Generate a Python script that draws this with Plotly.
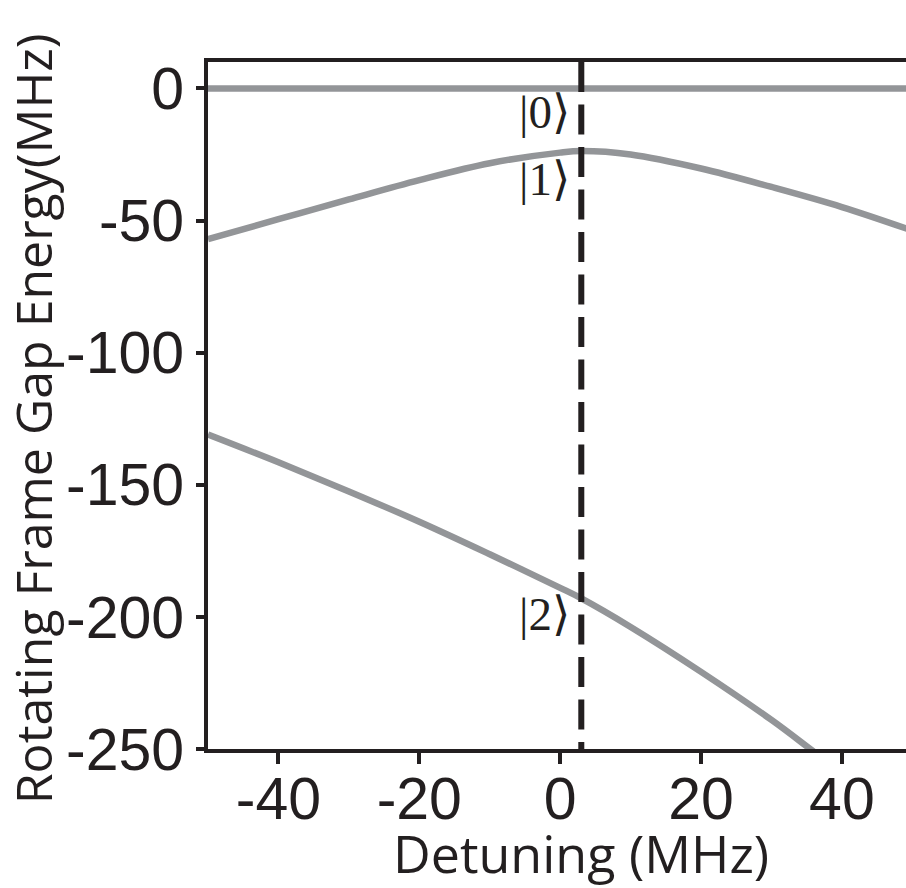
import plotly.graph_objects as go

# Data
detuning_0 = [-50, 50]
energy_0 = [0, 0]

detuning_1 = [-50, -40, -30, -20, -10, 0, 3, 10, 20, 30, 40, 50]
energy_1 = [-57.0, -49.5, -42.0, -34.7, -28.3, -24.3, -23.7, -25.0, -30.3, -37.3, -44.9, -53.8]

detuning_2 = [-50, -40, -30, -20, -10, 0, 3, 10, 20, 30, 36, 40]
energy_2 = [-131.0, -141.5, -152.5, -164.0, -176.3, -189.0, -193.0, -203.8, -220.8, -239.0, -251.0, -259.0]

marker_x = [3, 3]
marker_y = [10, -250]

x_ticks = [-40, -20, 0, 20, 40]
x_ticktext = ["-40", "-20", "0", "20", "40"]
y_ticks = [0, -50, -100, -150, -200, -250]
y_ticktext = ["0", "-50", "-100", "-150", "-200", "-250"]

state_labels = ["|0⟩", "|1⟩", "|2⟩"]
state_y = [-10.6, -35.8, -200.6]
state_x = [-2.2, -2.2, -2.2]

gray = "#939598"
ink = "#231f20"
tickfont = dict(family="Liberation Sans, Arial, sans-serif", size=59, color=ink)
titlefont = dict(family="Open Sans, Liberation Sans, sans-serif", size=52, color=ink)
ytitlefont = dict(family="Open Sans, Liberation Sans, sans-serif", size=50, color=ink)

fig = go.Figure()
for xs, ys in [(detuning_0, energy_0), (detuning_1, energy_1), (detuning_2, energy_2)]:
    fig.add_trace(go.Scatter(x=xs, y=ys, mode="lines", line=dict(color=gray, width=6.5, shape="spline"),
                             showlegend=False, hoverinfo="skip"))
fig.add_trace(go.Scatter(x=marker_x, y=marker_y, mode="lines",
                         line=dict(color=ink, width=6, dash="30px,12.5px"),
                         showlegend=False, hoverinfo="skip"))
fig.add_trace(go.Scatter(x=state_x, y=state_y, mode="text", text=state_labels,
                         textposition="middle center",
                         textfont=dict(family="Liberation Serif, DejaVu Serif, serif", size=47, color=ink),
                         showlegend=False, hoverinfo="skip"))

fig.update_layout(
    width=906, height=888,
    margin=dict(l=208, r=0, t=62, b=139),
    paper_bgcolor="white", plot_bgcolor="white",
    xaxis=dict(range=[-50, 49.1], tickvals=x_ticks, ticktext=x_ticktext, ticks="outside", ticklen=11,
               tickwidth=4, tickcolor=ink, showline=True, linecolor=ink, linewidth=4, mirror=True,
               showgrid=False, zeroline=False, tickfont=tickfont, ticklabelstandoff=-16),
    yaxis=dict(range=[-250, 10], tickvals=y_ticks, ticktext=y_ticktext, ticks="outside", ticklen=8,
               tickwidth=4, tickcolor=ink, showline=True, linecolor=ink, linewidth=4, mirror=False,
               showgrid=False, zeroline=False, tickfont=tickfont),
    annotations=[
        dict(text="Detuning (MHz)", xref="paper", yref="paper", x=0.535, y=-0.15,
             xanchor="center", yanchor="middle", showarrow=False, font=titlefont),
        dict(text="Rotating Frame Gap Energy(MHz)", xref="paper", yref="paper", x=-0.2507, y=0.48,
             xanchor="center", yanchor="middle", showarrow=False, textangle=-90, font=ytitlefont),
    ],
)

fig.write_html("out.html")
